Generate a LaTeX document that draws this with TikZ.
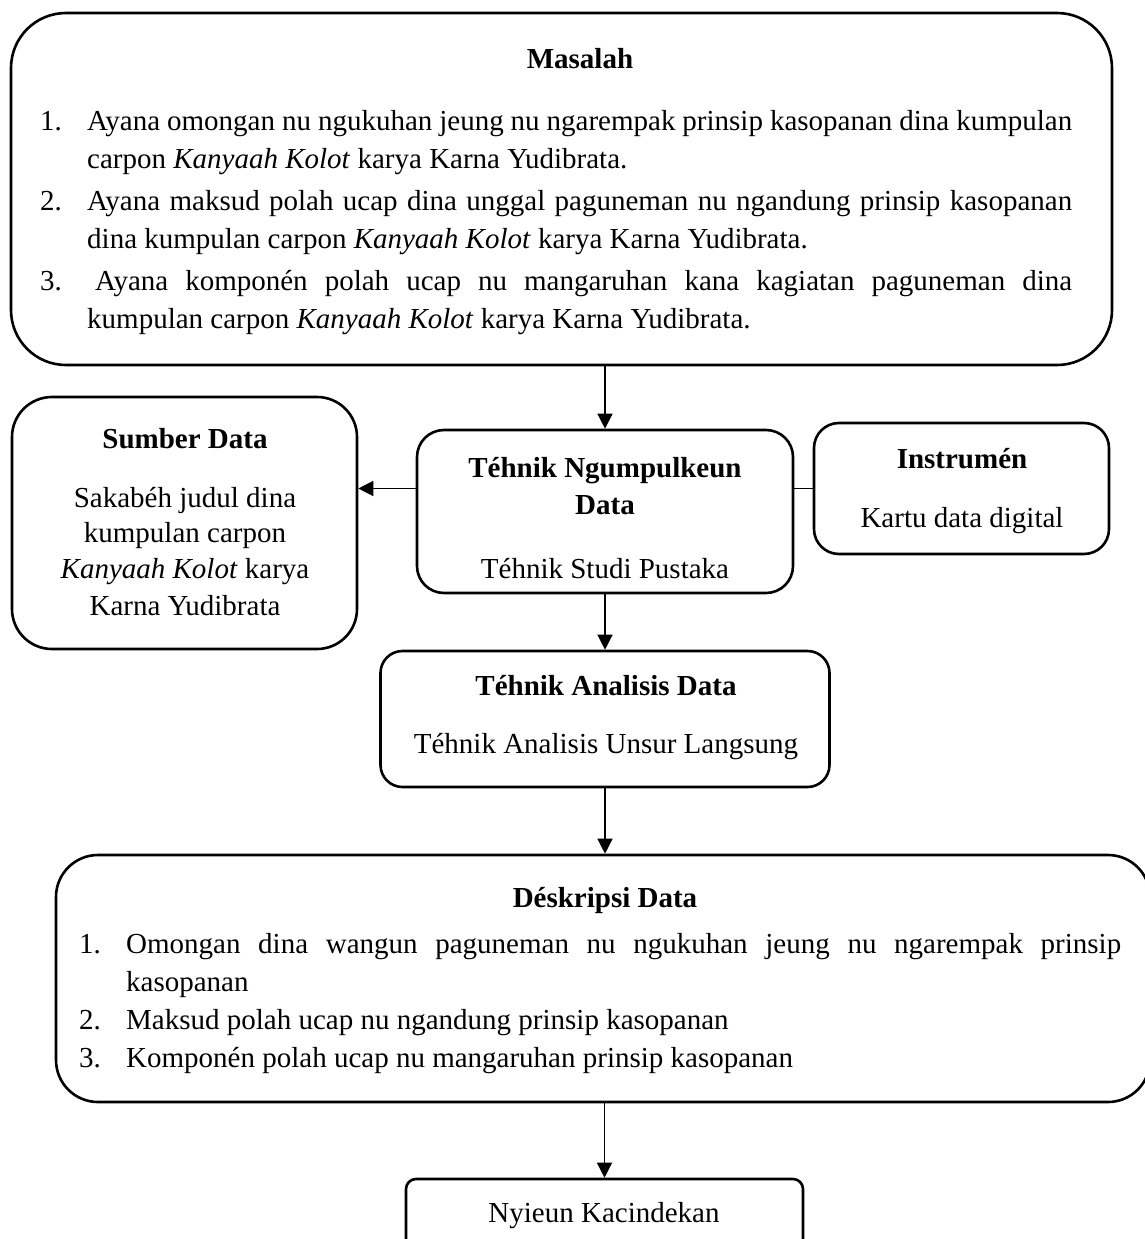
\documentclass[tikz,border=0pt]{standalone}
\usepackage{fontspec}
\setmainfont{Liberation Serif}
\usetikzlibrary{arrows.meta}
\begin{document}
\begin{tikzpicture}[x=1pt,y=-1pt,
  every node/.style={font=\fontsize{29}{38}\selectfont},
  box/.style={draw, line width=2.6pt, rounded corners=#1, inner sep=0pt},
  txt/.style={inner sep=0pt, anchor=base},
  txtl/.style={inner sep=0pt, anchor=base west},
  arr/.style={line width=1.3pt, -{Triangle[length=15pt,width=15pt]}},
  conn/.style={line width=1.3pt}]
\useasboundingbox (0,0) rectangle (1144,1239);

% Masalah
\node[box=55pt, minimum width=1101pt, minimum height=352pt] (masalah) at (561.5,189) {};
\node[txt] (mt) at (580,68) {\textbf{Masalah}};
\node[txtl] (m1n) at (40,130) {1.};
\node[txtl] (m1a) at (87,130) {\makebox[985pt][s]{Ayana omongan nu ngukuhan jeung nu ngarempak prinsip kasopanan dina kumpulan}};
\node[txtl] (m1b) at (87,168) {carpon \textit{Kanyaah Kolot} karya Karna Yudibrata.};
\node[txtl] (m2n) at (40,210) {2.};
\node[txtl] (m2a) at (87,210) {\makebox[985pt][s]{Ayana maksud polah ucap dina unggal paguneman nu ngandung prinsip kasopanan}};
\node[txtl] (m2b) at (87,248) {dina kumpulan carpon \textit{Kanyaah Kolot} karya Karna Yudibrata.};
\node[txtl] (m3n) at (40,290) {3.};
\node[txtl] (m3a) at (95,290) {\makebox[977pt][s]{Ayana komponén polah ucap nu mangaruhan kana kagiatan paguneman dina}};
\node[txtl] (m3b) at (87,328) {kumpulan carpon \textit{Kanyaah Kolot} karya Karna Yudibrata.};

% Sumber Data
\node[box=40pt, minimum width=345pt, minimum height=252pt] (sumber) at (184.5,523) {};
\node[txt] (st) at (185,448) {\textbf{Sumber Data}};
\node[txt] (s1) at (185,507) {Sakabéh judul dina};
\node[txt] (s2) at (185,542) {kumpulan carpon};
\node[txt] (s3) at (185,578) {\textit{Kanyaah Kolot} karya};
\node[txt] (s4) at (185,615) {Karna Yudibrata};

% Tehnik Ngumpulkeun Data
\node[box=27pt, minimum width=376pt, minimum height=163pt] (ngumpul) at (605,511.5) {};
\node[txt] (nt1) at (605,477) {\textbf{Téhnik Ngumpulkeun}};
\node[txt] (nt2) at (605,514) {\textbf{Data}};
\node[txt] (n1) at (605,578) {Téhnik Studi Pustaka};

% Instrumen
\node[box=25pt, minimum width=295pt, minimum height=131pt] (instrumen) at (961.5,488.5) {};
\node[txt] (it) at (962,468) {\textbf{Instrumén}};
\node[txt] (i1) at (962,527) {Kartu data digital};

% Tehnik Analisis Data
\node[box=22pt, minimum width=449pt, minimum height=136pt] (analisis) at (605,719) {};
\node[txt] (at) at (606,695) {\textbf{Téhnik Analisis Data}};
\node[txt] (a1) at (606,753) {Téhnik Analisis Unsur Langsung};

% Deskripsi Data
\node[box=42pt, minimum width=1094pt, minimum height=247pt] (deskripsi) at (603,978.5) {};
\node[txt] (dt) at (605,907) {\textbf{Déskripsi Data}};
\node[txtl] (d1n) at (79,953) {1.};
\node[txtl] (d1a) at (126,953) {\makebox[995pt][s]{Omongan dina wangun paguneman nu ngukuhan jeung nu ngarempak prinsip}};
\node[txtl] (d1b) at (126,991) {kasopanan};
\node[txtl] (d2n) at (79,1029) {2.};
\node[txtl] (d2a) at (126,1029) {Maksud polah ucap nu ngandung prinsip kasopanan};
\node[txtl] (d3n) at (79,1067) {3.};
\node[txtl] (d3a) at (126,1067) {Komponén polah ucap nu mangaruhan prinsip kasopanan};

% Nyieun Kacindekan
\node[box=10pt, minimum width=397pt, minimum height=81pt] (nyieun) at (604.5,1219.5) {};
\node[txt] (ny) at (604,1222) {Nyieun Kacindekan};

% connectors
\draw[arr] (ngumpul.north |- masalah.south) -- (ngumpul.north);
\draw[arr] (ngumpul.south) -- (ngumpul.south |- analisis.north);
\draw[arr] (analisis.south) -- (analisis.south |- deskripsi.north);
\draw[arr] (nyieun.north |- deskripsi.south) -- (nyieun.north);
\draw[arr] (ngumpul.west |- instrumen.west) -- (sumber.east |- instrumen.west);
\draw[conn] (ngumpul.east |- instrumen.west) -- (instrumen.west);
\end{tikzpicture}
\end{document}
